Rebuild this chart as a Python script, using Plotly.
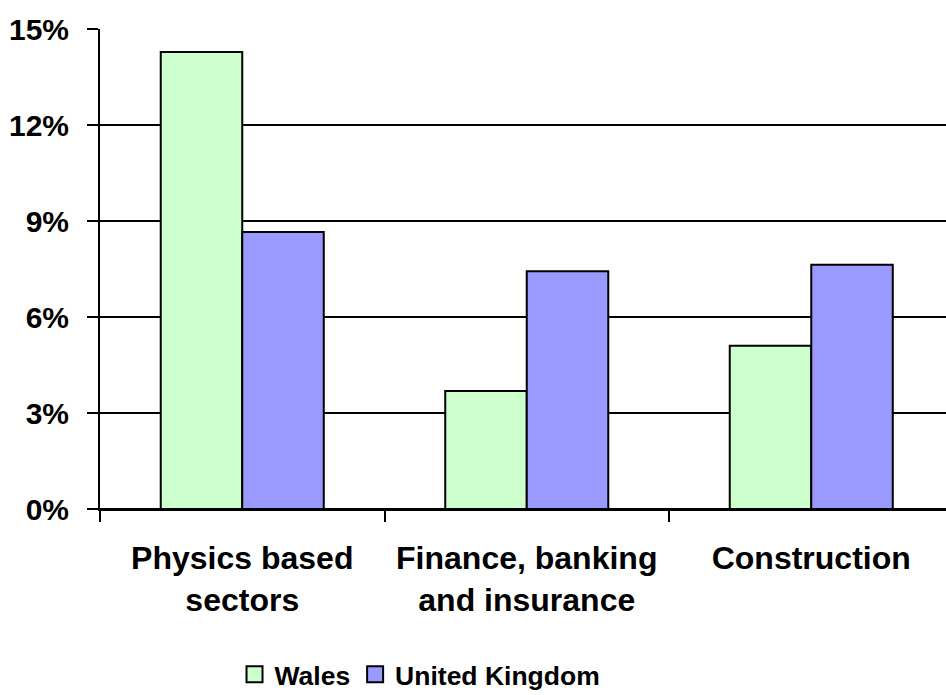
import plotly.graph_objects as go

categories = ["Physics based<br>sectors", "Finance, banking<br>and insurance", "Construction"]
wales = [14.28, 3.69, 5.10]
uk = [8.66, 7.43, 7.63]
series_names = ["Wales", "United Kingdom"]
colors = ["#CCFFCC", "#9999FF"]
ytick_vals = [0, 3, 6, 9, 12, 15]
ytick_text = ["0%", "3%", "6%", "9%", "12%", "15%"]

FONT = "Liberation Sans, Arial, sans-serif"

fig = go.Figure()
for name, vals, col in zip(series_names, [wales, uk], colors):
    fig.add_trace(go.Bar(
        x=categories, y=vals, name=name, showlegend=False,
        marker=dict(color=col, line=dict(color="black", width=2)),
    ))
# legend entries (bigger square swatches)
for name, col in zip(series_names, colors):
    fig.add_trace(go.Scatter(
        x=[None], y=[None], mode="markers", name=name,
        marker=dict(symbol="square", size=16, color=col, line=dict(color="black", width=2)),
    ))

fig.update_layout(
    width=946, height=695,
    margin=dict(l=100, r=0, t=29, b=186, autoexpand=False),
    paper_bgcolor="white", plot_bgcolor="white",
    barmode="group", bargap=0.427, bargroupgap=0,
    font=dict(family=FONT, color="black"),
    showlegend=True,
    legend=dict(
        orientation="h", x=0.159, xanchor="left", y=-0.395, yanchor="bottom",
        font=dict(family=FONT, size=26.5, color="black", weight="bold"),
        itemwidth=30, tracegroupgap=0,
    ),
    xaxis=dict(
        type="category", range=[-0.5, 2.4736],
        showline=True, linecolor="black", linewidth=2,
        ticks="outside", tickson="boundaries", ticklen=11, tickwidth=2, tickcolor="black",
        ticklabelstandoff=20,
        tickfont=dict(family=FONT, size=32, color="black", weight="bold"),
        showgrid=False, zeroline=False, automargin=False,
    ),
    yaxis=dict(
        range=[0, 15], tickvals=ytick_vals, ticktext=ytick_text,
        showline=True, linecolor="black", linewidth=2,
        ticks="outside", ticklen=11, tickwidth=2, tickcolor="black",
        ticklabelstandoff=12,
        tickfont=dict(family=FONT, size=30, color="black", weight="bold"),
        showgrid=True, gridcolor="black", gridwidth=2,
        zeroline=True, zerolinecolor="black", zerolinewidth=2, automargin=False,
    ),
)

fig.write_html("out.html")
